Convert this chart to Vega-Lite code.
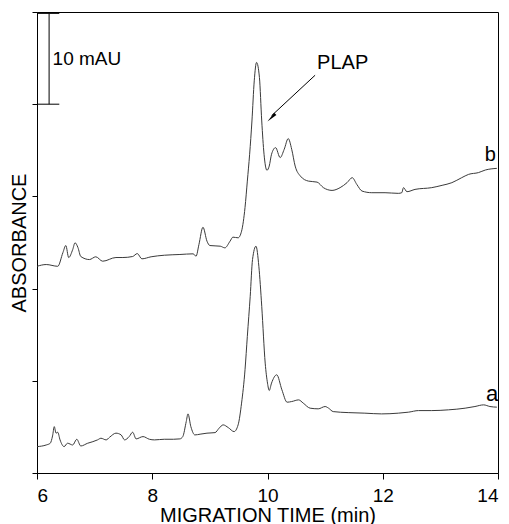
{
  "$schema": "https://vega.github.io/schema/vega-lite/v6.json",
  "width": 461,
  "height": 461,
  "autosize": "none",
  "padding": {"left": 37, "top": 12, "right": 11, "bottom": 51},
  "background": "white",
  "data": {"values": [{}]},
  "config": {
    "view": {"stroke": "black", "strokeWidth": 1},
    "font": "Liberation Sans",
    "axis": {
      "domainColor": "black",
      "tickColor": "black",
      "labelColor": "black",
      "titleColor": "black",
      "grid": false,
      "labelFont": "Liberation Sans",
      "titleFont": "Liberation Sans",
      "titleFontWeight": "normal"
    }
  },
  "datasets": {
    "traces": [
      {"trace": "b", "time": 6.00, "abs": 22.42},
      {"trace": "b", "time": 6.16, "abs": 22.61},
      {"trace": "b", "time": 6.36, "abs": 22.42},
      {"trace": "b", "time": 6.45, "abs": 23.91},
      {"trace": "b", "time": 6.50, "abs": 24.67},
      {"trace": "b", "time": 6.55, "abs": 23.37},
      {"trace": "b", "time": 6.62, "abs": 24.24},
      {"trace": "b", "time": 6.66, "abs": 24.97},
      {"trace": "b", "time": 6.71, "abs": 24.46},
      {"trace": "b", "time": 6.76, "abs": 23.48},
      {"trace": "b", "time": 6.91, "abs": 23.15},
      {"trace": "b", "time": 7.02, "abs": 23.45},
      {"trace": "b", "time": 7.14, "abs": 22.97},
      {"trace": "b", "time": 7.37, "abs": 23.37},
      {"trace": "b", "time": 7.49, "abs": 23.37},
      {"trace": "b", "time": 7.66, "abs": 23.48},
      {"trace": "b", "time": 7.74, "abs": 23.80},
      {"trace": "b", "time": 7.82, "abs": 23.23},
      {"trace": "b", "time": 7.98, "abs": 23.45},
      {"trace": "b", "time": 8.21, "abs": 23.62},
      {"trace": "b", "time": 8.48, "abs": 23.70},
      {"trace": "b", "time": 8.71, "abs": 23.77},
      {"trace": "b", "time": 8.76, "abs": 23.51},
      {"trace": "b", "time": 8.81, "abs": 24.78},
      {"trace": "b", "time": 8.88, "abs": 26.66},
      {"trace": "b", "time": 8.95, "abs": 25.14},
      {"trace": "b", "time": 9.00, "abs": 24.67},
      {"trace": "b", "time": 9.18, "abs": 24.60},
      {"trace": "b", "time": 9.26, "abs": 24.42},
      {"trace": "b", "time": 9.35, "abs": 25.14},
      {"trace": "b", "time": 9.40, "abs": 25.58},
      {"trace": "b", "time": 9.49, "abs": 25.51},
      {"trace": "b", "time": 9.55, "abs": 26.23},
      {"trace": "b", "time": 9.61, "abs": 28.80},
      {"trace": "b", "time": 9.65, "abs": 31.66},
      {"trace": "b", "time": 9.69, "abs": 34.57},
      {"trace": "b", "time": 9.73, "abs": 38.18},
      {"trace": "b", "time": 9.77, "abs": 42.53},
      {"trace": "b", "time": 9.81, "abs": 44.53},
      {"trace": "b", "time": 9.86, "abs": 42.90},
      {"trace": "b", "time": 9.90, "abs": 38.18},
      {"trace": "b", "time": 9.94, "abs": 34.57},
      {"trace": "b", "time": 9.99, "abs": 32.83},
      {"trace": "b", "time": 10.03, "abs": 33.29},
      {"trace": "b", "time": 10.07, "abs": 34.57},
      {"trace": "b", "time": 10.14, "abs": 35.29},
      {"trace": "b", "time": 10.22, "abs": 34.21},
      {"trace": "b", "time": 10.29, "abs": 35.11},
      {"trace": "b", "time": 10.36, "abs": 36.27},
      {"trace": "b", "time": 10.42, "abs": 35.11},
      {"trace": "b", "time": 10.48, "abs": 33.29},
      {"trace": "b", "time": 10.57, "abs": 32.21},
      {"trace": "b", "time": 10.71, "abs": 31.66},
      {"trace": "b", "time": 10.86, "abs": 31.55},
      {"trace": "b", "time": 10.97, "abs": 30.95},
      {"trace": "b", "time": 11.12, "abs": 30.65},
      {"trace": "b", "time": 11.26, "abs": 30.95},
      {"trace": "b", "time": 11.38, "abs": 31.49},
      {"trace": "b", "time": 11.47, "abs": 32.03},
      {"trace": "b", "time": 11.55, "abs": 31.30},
      {"trace": "b", "time": 11.64, "abs": 30.58},
      {"trace": "b", "time": 11.81, "abs": 30.40},
      {"trace": "b", "time": 12.04, "abs": 30.40},
      {"trace": "b", "time": 12.27, "abs": 30.33},
      {"trace": "b", "time": 12.33, "abs": 30.40},
      {"trace": "b", "time": 12.36, "abs": 30.95},
      {"trace": "b", "time": 12.42, "abs": 30.51},
      {"trace": "b", "time": 12.56, "abs": 30.76},
      {"trace": "b", "time": 12.85, "abs": 30.95},
      {"trace": "b", "time": 13.03, "abs": 31.20},
      {"trace": "b", "time": 13.20, "abs": 31.49},
      {"trace": "b", "time": 13.37, "abs": 32.03},
      {"trace": "b", "time": 13.49, "abs": 32.39},
      {"trace": "b", "time": 13.66, "abs": 32.58},
      {"trace": "b", "time": 13.78, "abs": 32.86},
      {"trace": "b", "time": 13.98, "abs": 33.04},
      {"trace": "a", "time": 6.00, "abs": 2.86},
      {"trace": "a", "time": 6.16, "abs": 3.04},
      {"trace": "a", "time": 6.23, "abs": 3.23},
      {"trace": "a", "time": 6.27, "abs": 4.02},
      {"trace": "a", "time": 6.30, "abs": 5.03},
      {"trace": "a", "time": 6.33, "abs": 4.32},
      {"trace": "a", "time": 6.36, "abs": 4.42},
      {"trace": "a", "time": 6.40, "abs": 3.59},
      {"trace": "a", "time": 6.47, "abs": 2.86},
      {"trace": "a", "time": 6.53, "abs": 3.23},
      {"trace": "a", "time": 6.62, "abs": 3.04},
      {"trace": "a", "time": 6.69, "abs": 3.66},
      {"trace": "a", "time": 6.76, "abs": 2.93},
      {"trace": "a", "time": 6.88, "abs": 3.23},
      {"trace": "a", "time": 6.97, "abs": 3.40},
      {"trace": "a", "time": 7.05, "abs": 3.59},
      {"trace": "a", "time": 7.11, "abs": 3.77},
      {"trace": "a", "time": 7.20, "abs": 3.59},
      {"trace": "a", "time": 7.26, "abs": 3.88},
      {"trace": "a", "time": 7.37, "abs": 4.32},
      {"trace": "a", "time": 7.46, "abs": 4.13},
      {"trace": "a", "time": 7.52, "abs": 3.59},
      {"trace": "a", "time": 7.60, "abs": 3.95},
      {"trace": "a", "time": 7.66, "abs": 4.42},
      {"trace": "a", "time": 7.72, "abs": 3.70},
      {"trace": "a", "time": 7.84, "abs": 3.95},
      {"trace": "a", "time": 7.95, "abs": 3.66},
      {"trace": "a", "time": 8.04, "abs": 3.59},
      {"trace": "a", "time": 8.21, "abs": 3.66},
      {"trace": "a", "time": 8.37, "abs": 3.66},
      {"trace": "a", "time": 8.48, "abs": 3.70},
      {"trace": "a", "time": 8.53, "abs": 3.95},
      {"trace": "a", "time": 8.59, "abs": 5.58},
      {"trace": "a", "time": 8.62, "abs": 6.41},
      {"trace": "a", "time": 8.67, "abs": 5.03},
      {"trace": "a", "time": 8.74, "abs": 4.13},
      {"trace": "a", "time": 8.83, "abs": 4.21},
      {"trace": "a", "time": 8.95, "abs": 4.32},
      {"trace": "a", "time": 9.09, "abs": 4.38},
      {"trace": "a", "time": 9.16, "abs": 4.86},
      {"trace": "a", "time": 9.23, "abs": 5.22},
      {"trace": "a", "time": 9.32, "abs": 4.92},
      {"trace": "a", "time": 9.42, "abs": 4.49},
      {"trace": "a", "time": 9.49, "abs": 5.22},
      {"trace": "a", "time": 9.55, "abs": 7.58},
      {"trace": "a", "time": 9.61, "abs": 11.20},
      {"trace": "a", "time": 9.65, "abs": 14.82},
      {"trace": "a", "time": 9.70, "abs": 19.16},
      {"trace": "a", "time": 9.74, "abs": 23.15},
      {"trace": "a", "time": 9.80, "abs": 24.60},
      {"trace": "a", "time": 9.85, "abs": 22.42},
      {"trace": "a", "time": 9.90, "abs": 18.08},
      {"trace": "a", "time": 9.96, "abs": 11.92},
      {"trace": "a", "time": 10.00, "abs": 9.75},
      {"trace": "a", "time": 10.03, "abs": 8.95},
      {"trace": "a", "time": 10.07, "abs": 9.75},
      {"trace": "a", "time": 10.16, "abs": 10.65},
      {"trace": "a", "time": 10.25, "abs": 9.02},
      {"trace": "a", "time": 10.34, "abs": 7.68},
      {"trace": "a", "time": 10.42, "abs": 7.75},
      {"trace": "a", "time": 10.54, "abs": 7.93},
      {"trace": "a", "time": 10.62, "abs": 7.58},
      {"trace": "a", "time": 10.74, "abs": 7.03},
      {"trace": "a", "time": 10.88, "abs": 6.96},
      {"trace": "a", "time": 11.00, "abs": 7.21},
      {"trace": "a", "time": 11.06, "abs": 7.03},
      {"trace": "a", "time": 11.14, "abs": 6.66},
      {"trace": "a", "time": 11.40, "abs": 6.55},
      {"trace": "a", "time": 11.69, "abs": 6.49},
      {"trace": "a", "time": 11.98, "abs": 6.41},
      {"trace": "a", "time": 12.27, "abs": 6.49},
      {"trace": "a", "time": 12.45, "abs": 6.60},
      {"trace": "a", "time": 12.62, "abs": 6.77},
      {"trace": "a", "time": 12.85, "abs": 6.77},
      {"trace": "a", "time": 13.14, "abs": 6.85},
      {"trace": "a", "time": 13.43, "abs": 7.03},
      {"trace": "a", "time": 13.60, "abs": 7.21},
      {"trace": "a", "time": 13.75, "abs": 7.39},
      {"trace": "a", "time": 13.86, "abs": 7.21},
      {"trace": "a", "time": 13.98, "abs": 7.14}
    ]
  },
  "layer": [
    {
      "data": {"name": "traces"},
      "mark": {"type": "line", "color": "#3a3a3a", "strokeWidth": 1, "interpolate": "monotone"},
      "encoding": {
        "x": {
          "field": "time", "type": "quantitative",
          "scale": {"domain": [6, 14], "nice": false, "zero": false},
          "axis": {
            "values": [6, 8, 10, 12, 14], "format": "d",
            "tickSize": 6, "labelFontSize": 19, "labelPadding": 7,
            "labelBaseline": "top",
            "title": "MIGRATION TIME (min)", "titleFontSize": 20,
            "titleX": 230.5, "titleY": 48, "titleBaseline": "alphabetic", "titleAlign": "center"
          }
        },
        "y": {
          "field": "abs", "type": "quantitative",
          "scale": {"domain": [0, 50], "nice": false, "zero": false},
          "axis": {
            "values": [0, 10, 20, 30, 40, 50], "labels": false, "tickSize": 5,
            "title": "ABSORBANCE", "titleFontSize": 20,
            "titleX": -12, "titleY": 230.5, "titleAngle": -90,
            "titleBaseline": "alphabetic", "titleAlign": "center"
          }
        },
        "detail": {"field": "trace", "type": "nominal"}
      }
    },
    {
      "mark": {"type": "rule", "color": "black", "strokeWidth": 1},
      "encoding": {
        "x": {"datum": 6.21, "type": "quantitative"},
        "y": {"datum": 40, "type": "quantitative"},
        "y2": {"datum": 49.85}
      }
    },
    {
      "mark": {"type": "rule", "color": "black", "strokeWidth": 1},
      "encoding": {
        "x": {"datum": 6.017, "type": "quantitative"},
        "x2": {"datum": 6.387},
        "y": {"datum": 49.85, "type": "quantitative"}
      }
    },
    {
      "mark": {"type": "rule", "color": "black", "strokeWidth": 1},
      "encoding": {
        "x": {"datum": 6.017, "type": "quantitative"},
        "x2": {"datum": 6.387},
        "y": {"datum": 40, "type": "quantitative"}
      }
    },
    {
      "mark": {"type": "text", "text": "10 mAU", "fontSize": 19, "align": "left", "baseline": "alphabetic", "color": "black", "font": "Liberation Sans"},
      "encoding": {
        "x": {"datum": 6.27, "type": "quantitative"},
        "y": {"datum": 44.3, "type": "quantitative"}
      }
    },
    {
      "mark": {"type": "text", "text": "PLAP", "fontSize": 20, "align": "left", "baseline": "alphabetic", "color": "black", "font": "Liberation Sans"},
      "encoding": {
        "x": {"datum": 10.861, "type": "quantitative"},
        "y": {"datum": 43.87, "type": "quantitative"}
      }
    },
    {
      "mark": {"type": "rule", "color": "black", "strokeWidth": 1},
      "encoding": {
        "x": {"datum": 10.826, "type": "quantitative"},
        "y": {"datum": 43.14, "type": "quantitative"},
        "x2": {"datum": 10.07},
        "y2": {"datum": 38.75}
      }
    },
    {
      "mark": {"type": "point", "shape": "wedge", "filled": true, "color": "black", "size": 160, "angle": 226, "opacity": 1, "strokeWidth": 0},
      "encoding": {
        "x": {"datum": 10.09, "type": "quantitative"},
        "y": {"datum": 38.68, "type": "quantitative"}
      }
    },
    {
      "mark": {"type": "text", "text": "b", "fontSize": 20, "align": "left", "baseline": "alphabetic", "color": "black", "font": "Liberation Sans"},
      "encoding": {
        "x": {"datum": 13.768, "type": "quantitative"},
        "y": {"datum": 33.86, "type": "quantitative"}
      }
    },
    {
      "mark": {"type": "text", "text": "a", "fontSize": 22, "align": "left", "baseline": "alphabetic", "color": "black", "font": "Liberation Sans"},
      "encoding": {
        "x": {"datum": 13.79, "type": "quantitative"},
        "y": {"datum": 7.86, "type": "quantitative"}
      }
    }
  ]
}
